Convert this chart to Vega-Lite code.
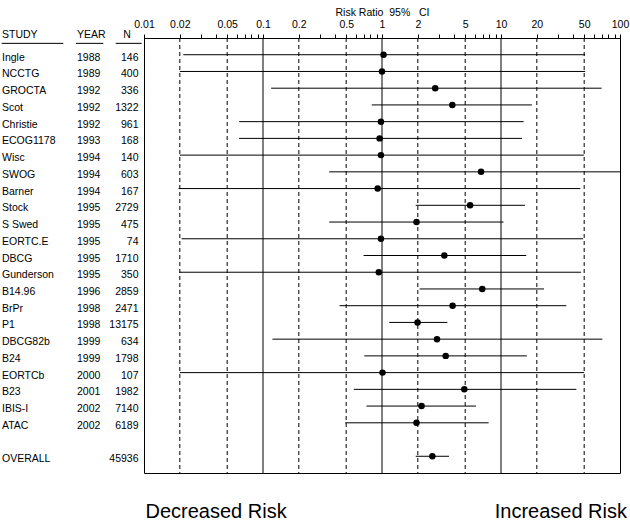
{
  "$schema": "https://vega.github.io/schema/vega-lite/v6.json",
  "background": "white",
  "padding": {"left": 0, "top": 6, "right": 0, "bottom": 0},
  "autosize": {"type": "pad"},
  "spacing": 0,
  "bounds": "flush",
  "config": {
    "font": "Liberation Sans",
    "view": {"stroke": "black", "strokeWidth": 1},
    "text": {"font": "Liberation Sans", "fontSize": 10.5, "color": "black"}
  },
  "datasets": {
    "studies": [
      {"row": 1, "study": "Ingle", "year": "1988", "n": "146", "lo": 0.0214, "est": 1.03, "hi": 51},
      {"row": 2, "study": "NCCTG", "year": "1989", "n": "400", "lo": 0.02, "est": 1.0, "hi": 51},
      {"row": 3, "study": "GROCTA", "year": "1992", "n": "336", "lo": 0.117, "est": 2.8, "hi": 70},
      {"row": 4, "study": "Scot", "year": "1992", "n": "1322", "lo": 0.82, "est": 3.9, "hi": 18.2},
      {"row": 5, "study": "Christie", "year": "1992", "n": "961", "lo": 0.063, "est": 0.98, "hi": 15.5},
      {"row": 6, "study": "ECOG1178", "year": "1993", "n": "168", "lo": 0.063, "est": 0.955, "hi": 15},
      {"row": 7, "study": "Wisc", "year": "1994", "n": "140", "lo": 0.02, "est": 0.98, "hi": 49.7},
      {"row": 8, "study": "SWOG", "year": "1994", "n": "603", "lo": 0.36, "est": 6.8, "hi": 100},
      {"row": 9, "study": "Barner", "year": "1994", "n": "167", "lo": 0.0195, "est": 0.92, "hi": 46.4},
      {"row": 10, "study": "Stock", "year": "1995", "n": "2729", "lo": 1.92, "est": 5.5, "hi": 15.9},
      {"row": 11, "study": "S Swed", "year": "1995", "n": "475", "lo": 0.36, "est": 1.95, "hi": 10.5},
      {"row": 12, "study": "EORTC.E", "year": "1995", "n": "74", "lo": 0.0207, "est": 0.98, "hi": 49},
      {"row": 13, "study": "DBCG", "year": "1995", "n": "1710", "lo": 0.7, "est": 3.34, "hi": 16.3},
      {"row": 14, "study": "Gunderson", "year": "1995", "n": "350", "lo": 0.0198, "est": 0.94, "hi": 47},
      {"row": 15, "study": "B14.96", "year": "1996", "n": "2859", "lo": 2.07, "est": 6.96, "hi": 23},
      {"row": 16, "study": "BrPr", "year": "1998", "n": "2471", "lo": 0.44, "est": 3.92, "hi": 35.4},
      {"row": 17, "study": "P1", "year": "1998", "n": "13175", "lo": 1.15, "est": 1.99, "hi": 3.54},
      {"row": 18, "study": "DBCG82b", "year": "1999", "n": "634", "lo": 0.12, "est": 2.9, "hi": 71},
      {"row": 19, "study": "B24", "year": "1999", "n": "1798", "lo": 0.71, "est": 3.43, "hi": 16.5},
      {"row": 20, "study": "EORTCb", "year": "2000", "n": "107", "lo": 0.02, "est": 1.01, "hi": 50},
      {"row": 21, "study": "B23", "year": "2001", "n": "1982", "lo": 0.58, "est": 4.92, "hi": 43},
      {"row": 22, "study": "IBIS-I", "year": "2002", "n": "7140", "lo": 0.74, "est": 2.15, "hi": 6.16},
      {"row": 23, "study": "ATAC", "year": "2002", "n": "6189", "lo": 0.49, "est": 1.95, "hi": 7.87},
      {"row": 25, "study": "OVERALL", "year": "", "n": "45936", "lo": 1.92, "est": 2.65, "hi": 3.66}
    ],
    "grid": [
      {"v": 0.02, "kind": "dashed"},
      {"v": 0.05, "kind": "dashed"},
      {"v": 0.1, "kind": "solid"},
      {"v": 0.2, "kind": "dashed"},
      {"v": 0.5, "kind": "dashed"},
      {"v": 1, "kind": "solid"},
      {"v": 2, "kind": "dashed"},
      {"v": 5, "kind": "dashed"},
      {"v": 10, "kind": "solid"},
      {"v": 20, "kind": "dashed"},
      {"v": 50, "kind": "dashed"}
    ],
    "one": [{"k": 1}]
  },
  "hconcat": [
    {
      "width": 143.5,
      "height": 435,
      "view": {"stroke": null},
      "layer": [
        {
          "data": {"name": "studies"},
          "mark": {"type": "text", "align": "left", "baseline": "middle", "dy": 3},
          "encoding": {
            "x": {"datum": 2, "type": "quantitative", "scale": {"domain": [0, 143.5], "nice": false, "zero": false}, "axis": null},
            "y": {"field": "row", "type": "quantitative", "scale": {"domain": [0, 26], "reverse": true, "nice": false, "zero": false}, "axis": null},
            "text": {"field": "study"}
          }
        },
        {
          "data": {"name": "studies"},
          "mark": {"type": "text", "align": "left", "baseline": "middle", "dy": 3},
          "encoding": {
            "x": {"datum": 77, "type": "quantitative", "axis": null},
            "y": {"field": "row", "type": "quantitative", "axis": null},
            "text": {"field": "year"}
          }
        },
        {
          "data": {"name": "studies"},
          "mark": {"type": "text", "align": "right", "baseline": "middle", "dy": 3},
          "encoding": {
            "x": {"datum": 138.5, "type": "quantitative", "axis": null},
            "y": {"field": "row", "type": "quantitative", "axis": null},
            "text": {"field": "n"}
          }
        },
        {
          "data": {"name": "one"},
          "mark": {"type": "text", "align": "left", "baseline": "middle", "dy": 3, "text": "STUDY"},
          "encoding": {
            "x": {"datum": 2, "type": "quantitative", "axis": null},
            "y": {"datum": -0.35, "type": "quantitative", "axis": null}
          }
        },
        {
          "data": {"name": "one"},
          "mark": {"type": "text", "align": "left", "baseline": "middle", "dy": 3, "text": "YEAR"},
          "encoding": {
            "x": {"datum": 77, "type": "quantitative", "axis": null},
            "y": {"datum": -0.35, "type": "quantitative", "axis": null}
          }
        },
        {
          "data": {"name": "one"},
          "mark": {"type": "text", "align": "center", "baseline": "middle", "dy": 3, "text": "N"},
          "encoding": {
            "x": {"datum": 127, "type": "quantitative", "axis": null},
            "y": {"datum": -0.35, "type": "quantitative", "axis": null}
          }
        },
        {
          "data": {"name": "one"},
          "mark": {"type": "rule", "color": "black", "strokeWidth": 1},
          "encoding": {
            "x": {"datum": 1.7, "type": "quantitative", "axis": null},
            "x2": {"datum": 63.3},
            "y": {"datum": 0.32, "type": "quantitative", "axis": null}
          }
        },
        {
          "data": {"name": "one"},
          "mark": {"type": "rule", "color": "black", "strokeWidth": 1},
          "encoding": {
            "x": {"datum": 76, "type": "quantitative", "axis": null},
            "x2": {"datum": 103.3},
            "y": {"datum": 0.32, "type": "quantitative", "axis": null}
          }
        },
        {
          "data": {"name": "one"},
          "mark": {"type": "rule", "color": "black", "strokeWidth": 1},
          "encoding": {
            "x": {"datum": 115.7, "type": "quantitative", "axis": null},
            "x2": {"datum": 141.7},
            "y": {"datum": 0.32, "type": "quantitative", "axis": null}
          }
        }
      ]
    },
    {
      "width": 476,
      "height": 435,
      "view": {"stroke": "black", "strokeWidth": 1},
      "layer": [
        {
          "data": {"name": "grid"},
          "mark": {"type": "rule", "color": "black", "strokeWidth": 1},
          "encoding": {
            "x": {
              "field": "v", "type": "quantitative",
              "title": "Risk Ratio\u00a0 95%\u00a0\u00a0 CI",
              "scale": {"type": "log", "domain": [0.01, 100], "nice": false},
              "axis": {
                "orient": "top",
                "titleFontSize": 10.5,
                "titleFontWeight": "normal",
                "titleColor": "black",
                "titleFont": "Liberation Sans",
                "titlePadding": 2,
                "labelFont": "Liberation Sans",
                "labelFontSize": 10.5,
                "labelColor": "black",
                "labelPadding": 5,
                "labelOverlap": false,
                "labelFlush": false,
                "tickSize": 4,
                "tickColor": "black",
                "domainColor": "black",
                "grid": false,
                "values": [0.01, 0.02, 0.03, 0.04, 0.05, 0.06, 0.07, 0.08, 0.09, 0.1, 0.2, 0.3, 0.4, 0.5, 0.6, 0.7, 0.8, 0.9, 1, 2, 3, 4, 5, 6, 7, 8, 9, 10, 20, 30, 40, 50, 60, 70, 80, 90, 100],
                "labelExpr": "indexof([0.01, 0.02, 0.05, 0.1, 0.2, 0.5, 1, 2, 5, 10, 20, 50, 100], datum.value) >= 0 ? format(datum.value, '~g') : ''"
              }
            },
            "y": {"datum": 0, "type": "quantitative", "scale": {"domain": [0, 26], "reverse": true, "nice": false, "zero": false}, "axis": null},
            "y2": {"datum": 26},
            "strokeDash": {
              "field": "kind", "type": "nominal",
              "scale": {"domain": ["solid", "dashed"], "range": [[1, 0], [4, 3]]},
              "legend": null
            }
          }
        },
        {
          "data": {"name": "studies"},
          "mark": {"type": "rule", "color": "black", "strokeWidth": 1},
          "encoding": {
            "x": {"field": "lo", "type": "quantitative", "title": "Risk Ratio\u00a0 95%\u00a0\u00a0 CI"},
            "x2": {"field": "hi"},
            "y": {"field": "row", "type": "quantitative", "axis": null}
          }
        },
        {
          "data": {"name": "studies"},
          "mark": {"type": "point", "filled": true, "shape": "circle", "size": 42, "color": "black", "opacity": 1},
          "encoding": {
            "x": {"field": "est", "type": "quantitative", "title": "Risk Ratio\u00a0 95%\u00a0\u00a0 CI"},
            "y": {"field": "row", "type": "quantitative", "axis": null}
          }
        },
        {
          "data": {"name": "one"},
          "mark": {"type": "text", "align": "left", "baseline": "alphabetic", "fontSize": 20, "dx": 1.5, "text": "Decreased Risk"},
          "encoding": {
            "x": {"datum": 0.01, "type": "quantitative", "title": "Risk Ratio\u00a0 95%\u00a0\u00a0 CI"},
            "y": {"datum": 28.68, "type": "quantitative", "axis": null}
          }
        },
        {
          "data": {"name": "one"},
          "mark": {"type": "text", "align": "right", "baseline": "alphabetic", "fontSize": 20, "dx": 7, "text": "Increased Risk"},
          "encoding": {
            "x": {"datum": 100, "type": "quantitative", "title": "Risk Ratio\u00a0 95%\u00a0\u00a0 CI"},
            "y": {"datum": 28.68, "type": "quantitative", "axis": null}
          }
        }
      ]
    }
  ]
}
